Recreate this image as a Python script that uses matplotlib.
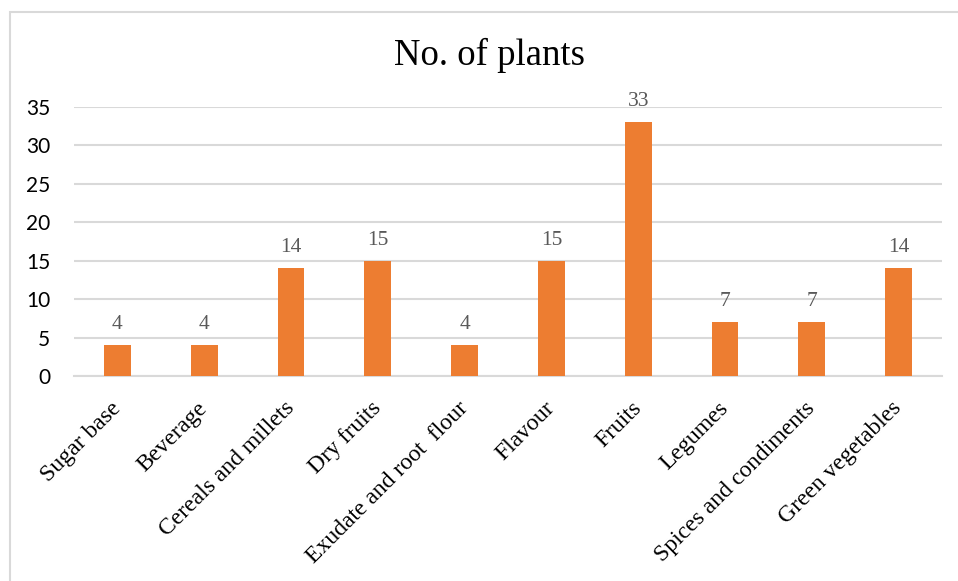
import matplotlib.pyplot as plt
from matplotlib.patches import Rectangle

categories = ['Sugar base', 'Beverage', 'Cereals and millets', 'Dry fruits',
              'Exudate and root  flour', 'Flavour', 'Fruits', 'Legumes',
              'Spices and condiments', 'Green vegetables']
plants = [4, 4, 14, 15, 4, 15, 33, 7, 7, 14]
y_ticks = [0, 5, 10, 15, 20, 25, 30, 35]

SERIF = ['Liberation Serif', 'DejaVu Serif']
SANS = ['Lato', 'Liberation Sans', 'DejaVu Sans']
GRID = '#d9d9d9'

fig = plt.figure(figsize=(9.58, 5.81), dpi=100)
ax = fig.add_axes([74 / 958, 1 - 376 / 581, 868 / 958, 269 / 581])

# outer chart border (cut off at right/bottom as in the source image)
fig.patches.append(Rectangle((10 / 958, -0.1), 1.2, 1.1 - 12 / 581,
                             transform=fig.transFigure, fill=False,
                             edgecolor=GRID, lw=1.5))

x = range(len(categories))
bars = ax.bar(x, plants, width=0.31, color='#ED7D31', zorder=3)

for xi, v in zip(x, plants):
    ax.annotate(str(v), (xi, v), xytext=(0, 8), textcoords='offset points',
                ha='center', va='bottom', fontsize=15.5, color='#595959',
                family=SERIF)

ax.set_xlim(-0.5, len(categories) - 0.5)
ax.set_ylim(0, 35)
ax.set_yticks(y_ticks)
ax.set_yticklabels([str(t) for t in y_ticks], family=SANS, fontsize=15)
ax.tick_params(axis='y', length=0, pad=17)
ax.set_xticks(list(x))
ax.set_xticklabels(categories, rotation=45, ha='right', va='center',
                   rotation_mode='anchor', family=SERIF, fontsize=17)
ax.tick_params(axis='x', length=0, pad=21)

ax.grid(axis='y', color=GRID, lw=1.5, zorder=0)
for s in ['top', 'right', 'left']:
    ax.spines[s].set_visible(False)
ax.spines['bottom'].set_color(GRID)
ax.spines['bottom'].set_linewidth(1.5)

fig.text(490 / 958, 1 - 55 / 581, 'No. of plants', ha='center', va='center',
         fontsize=26.5, family=SERIF)

fig.savefig('out.png', dpi=100)
